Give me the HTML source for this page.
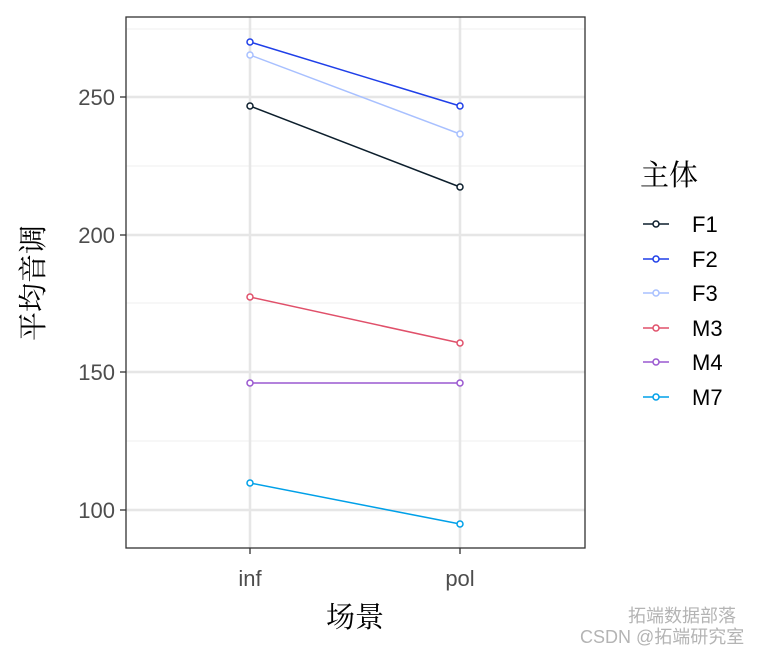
<!DOCTYPE html><html><head><meta charset="utf-8"><style>body{margin:0;background:#fff}svg{display:block}</style></head><body>
<svg width="767" height="654" xmlns="http://www.w3.org/2000/svg" font-family="Liberation Sans, Noto Sans CJK SC, sans-serif">
<rect width="767" height="654" fill="#fff"/>
<g stroke="#efefef" stroke-width="1">
<line x1="126" x2="585" y1="29" y2="29"/><line x1="126" x2="585" y1="166" y2="166"/><line x1="126" x2="585" y1="303" y2="303"/><line x1="126" x2="585" y1="441" y2="441"/>
</g>
<g stroke="#e6e6e6" stroke-width="2.5">
<line x1="126" x2="585" y1="97" y2="97"/><line x1="126" x2="585" y1="235" y2="235"/><line x1="126" x2="585" y1="372" y2="372"/><line x1="126" x2="585" y1="510" y2="510"/>
<line x1="250" x2="250" y1="17" y2="548"/><line x1="460" x2="460" y1="17" y2="548"/>
</g>
<rect x="126" y="17" width="459" height="531" fill="none" stroke="#333" stroke-width="1.3"/>
<g stroke-width="1.5" fill="#fff">
<line x1="250" y1="106" x2="460" y2="187" stroke="#0d1f2d"/><circle cx="250" cy="106" r="3" stroke="#0d1f2d"/><circle cx="460" cy="187" r="3" stroke="#0d1f2d"/>
<line x1="250" y1="42" x2="460" y2="106" stroke="#1f3fe8"/><circle cx="250" cy="42" r="3" stroke="#1f3fe8"/><circle cx="460" cy="106" r="3" stroke="#1f3fe8"/>
<line x1="250" y1="55" x2="460" y2="134" stroke="#a8c0ff"/><circle cx="250" cy="55" r="3" stroke="#a8c0ff"/><circle cx="460" cy="134" r="3" stroke="#a8c0ff"/>
<line x1="250" y1="297" x2="460" y2="343" stroke="#e0506a"/><circle cx="250" cy="297" r="3" stroke="#e0506a"/><circle cx="460" cy="343" r="3" stroke="#e0506a"/>
<line x1="250" y1="383" x2="460" y2="383" stroke="#9a58d0"/><circle cx="250" cy="383" r="3" stroke="#9a58d0"/><circle cx="460" cy="383" r="3" stroke="#9a58d0"/>
<line x1="250" y1="483" x2="460" y2="524" stroke="#00a0e8"/><circle cx="250" cy="483" r="3" stroke="#00a0e8"/><circle cx="460" cy="524" r="3" stroke="#00a0e8"/>
</g>
<g stroke="#333" stroke-width="1.3"><line x1="120" x2="126" y1="97" y2="97"/><line x1="120" x2="126" y1="235" y2="235"/><line x1="120" x2="126" y1="372" y2="372"/><line x1="120" x2="126" y1="510" y2="510"/><line x1="250" x2="250" y1="548" y2="554"/><line x1="460" x2="460" y1="548" y2="554"/></g>
<g fill="#4d4d4d" font-size="22" text-anchor="end"><text x="115" y="105">250</text><text x="115" y="243">200</text><text x="115" y="380">150</text><text x="115" y="518">100</text></g>
<g fill="#4d4d4d" font-size="22" text-anchor="middle"><text x="250" y="586">inf</text><text x="460" y="586">pol</text></g>
<g font-family="Noto Serif CJK SC, serif">
<text x="355" y="627" font-size="29" text-anchor="middle">场景</text>
<text transform="translate(43,283) rotate(-90)" font-size="29" text-anchor="middle">平均音调</text>
<text x="640" y="185" font-size="29">主体</text>
</g>
<g stroke-width="1.5" fill="#fff" font-size="22">
<g stroke="#0d1f2d"><line x1="643" x2="669" y1="224" y2="224"/><circle cx="656" cy="224" r="3"/></g>
<g stroke="#1f3fe8"><line x1="643" x2="669" y1="259" y2="259"/><circle cx="656" cy="259" r="3"/></g>
<g stroke="#a8c0ff"><line x1="643" x2="669" y1="293" y2="293"/><circle cx="656" cy="293" r="3"/></g>
<g stroke="#e0506a"><line x1="643" x2="669" y1="328" y2="328"/><circle cx="656" cy="328" r="3"/></g>
<g stroke="#9a58d0"><line x1="643" x2="669" y1="362" y2="362"/><circle cx="656" cy="362" r="3"/></g>
<g stroke="#00a0e8"><line x1="643" x2="669" y1="397" y2="397"/><circle cx="656" cy="397" r="3"/></g>
</g>
<g font-size="22" fill="#000"><text x="692" y="232">F1</text><text x="692" y="267">F2</text><text x="692" y="301">F3</text><text x="692" y="336">M3</text><text x="692" y="370">M4</text><text x="692" y="405">M7</text></g>
<g fill="#b4b4b4" font-size="18"><text x="628" y="622">拓端数据部落</text><text x="580" y="643">CSDN @拓端研究室</text></g>
</svg></body></html>
